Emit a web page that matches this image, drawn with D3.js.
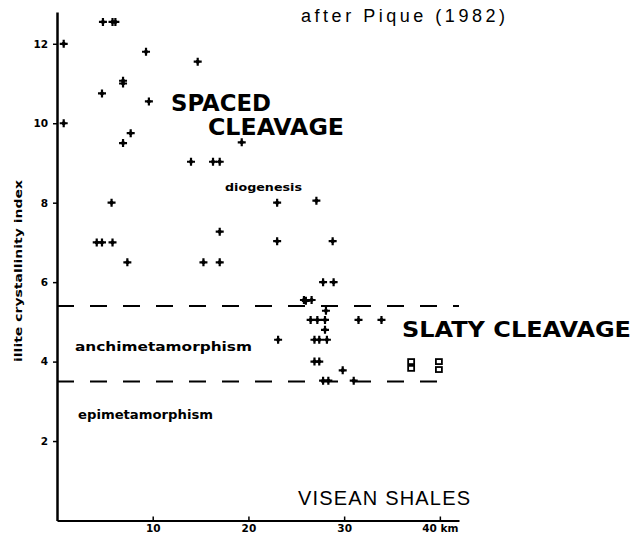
<!DOCTYPE html>
<html>
<head>
<meta charset="utf-8">
<script src="https://d3js.org/d3.v7.min.js"></script>
<style>
  body { margin: 0; background: #fff; }
  svg { display: block; }
  .lbl-bold { font-family: "DejaVu Sans", sans-serif; font-weight: bold; fill: #000; }
  .lbl-plain { font-family: "Liberation Sans", Arial, sans-serif; fill: #000; }
</style>
</head>
<body>
<svg id="chart" width="636" height="537"></svg>
<script>
// distance (km) and illite crystallinity index, crosses
const crossX = [0.7, 0.7, 4.8, 5.8, 6.1, 9.3, 14.7, 6.9, 6.9, 4.7, 9.6, 7.7, 6.9, 14.0, 16.3, 17.0, 19.3,
  5.7, 4.15, 4.7, 5.8, 7.35, 15.3, 17.0, 17.0, 23.0, 27.1, 23.0, 28.8, 27.8, 28.9,
  25.8, 26.0, 26.6, 28.1, 26.5, 27.2, 28.0, 31.5, 33.9, 28.0, 23.1, 26.9, 27.4, 28.2,
  26.9, 27.4, 29.85, 27.8, 28.35, 31.0];
const crossY = [12.0, 10.0, 12.55, 12.55, 12.55, 11.8, 11.55, 11.0, 11.07, 10.75, 10.55, 9.75, 9.5, 9.03, 9.03, 9.03, 9.52,
  8.0, 7.0, 7.0, 7.0, 6.5, 6.5, 6.5, 7.27, 8.0, 8.05, 7.03, 7.03, 6.0, 6.0,
  5.55, 5.53, 5.55, 5.28, 5.05, 5.05, 5.05, 5.05, 5.05, 4.8, 4.55, 4.55, 4.55, 4.55,
  4.0, 4.0, 3.78, 3.52, 3.52, 3.52];

// open squares (slaty cleavage samples)
const squareX = [37.0, 37.0, 39.9, 39.9];
const squareY = [4.0, 3.83, 4.0, 3.8];

// zone limits
const limitY = [5.4, 3.5];
const limitEnd = [42, 40.5];

const yTicks = [2, 4, 6, 8, 10, 12];
const xTicks = [10, 20, 30, 40];

const svg = d3.select('#chart');

const x = d3.scaleLinear().domain([0, 42]).range([57, 459]);
const y = d3.scaleLinear().domain([0, 12.8]).range([520.5, 12]);

// dashed zone limits
svg.selectAll('.limit')
  .data(limitY)
  .enter()
  .append('line')
  .attr('class', 'limit')
  .attr('x1', x(0))
  .attr('x2', (d, i) => x(limitEnd[i]))
  .attr('y1', d => y(d))
  .attr('y2', d => y(d))
  .attr('stroke', '#000')
  .attr('stroke-width', 2)
  .attr('stroke-dasharray', '17,16');

// axes
const yAxis = svg.append('g')
  .attr('transform', `translate(${x(0)},0)`)
  .call(d3.axisLeft(y).tickValues(yTicks).tickSizeInner(4).tickSizeOuter(0).tickPadding(5));

const xAxis = svg.append('g')
  .attr('transform', `translate(0,${y(0)})`)
  .call(d3.axisBottom(x).tickValues(xTicks).tickSizeInner(-4).tickSizeOuter(0).tickPadding(4)
    .tickFormat(d => d === 40 ? '40 km' : d));

yAxis.select('.domain').attr('stroke-width', 2.5);
xAxis.select('.domain').attr('stroke-width', 1.8);
[yAxis, xAxis].forEach(a => {
  a.selectAll('.tick line').attr('stroke-width', 1.5);
  a.selectAll('.tick text')
    .attr('font-family', '"DejaVu Sans", sans-serif')
    .attr('font-weight', 'bold')
    .attr('font-size', 10.5);
});

// crosses
const crosses = svg.selectAll('.cross')
  .data(crossX.map((d, i) => [d, crossY[i]]))
  .enter()
  .append('g')
  .attr('class', 'cross')
  .attr('transform', d => `translate(${x(d[0])},${y(d[1])})`);

crosses.append('path')
  .attr('d', 'M-4,0H4M0,-4V4')
  .attr('stroke', '#000')
  .attr('stroke-width', 2.2);

crosses.append('circle')
  .attr('r', 2)
  .attr('fill', '#000');

// squares
svg.selectAll('.sq')
  .data(squareX.map((d, i) => [d, squareY[i]]))
  .enter()
  .append('rect')
  .attr('class', 'sq')
  .attr('x', d => x(d[0]) - 3)
  .attr('y', d => y(d[1]) - 2.5)
  .attr('width', 6)
  .attr('height', 5)
  .attr('fill', '#fff')
  .attr('stroke', '#000')
  .attr('stroke-width', 1.8);

// labels
function label(txt, px, py, size, cls, width) {
  const t = svg.append('text')
    .attr('class', cls)
    .attr('x', px)
    .attr('y', py)
    .attr('font-size', size)
    .text(txt);
  if (width) t.attr('textLength', width).attr('lengthAdjust', 'spacingAndGlyphs');
  return t;
}

label('after Pique (1982)', 301, 22, 18, 'lbl-plain', 204).attr('lengthAdjust', 'spacing');
label('SPACED', 171, 111, 23, 'lbl-bold', 100);
label('CLEAVAGE', 208, 135, 23, 'lbl-bold', 136);
label('diogenesis', 225, 191, 11, 'lbl-bold', 77);
label('SLATY CLEAVAGE', 402, 337, 21, 'lbl-bold', 229);
label('anchimetamorphism', 75, 351, 12, 'lbl-bold', 177);
label('epimetamorphism', 78, 419, 12, 'lbl-bold', 135);
label('VISEAN SHALES', 298, 505, 20, 'lbl-plain', 172).attr('lengthAdjust', 'spacing');

svg.append('text')
  .attr('class', 'lbl-bold')
  .attr('transform', 'translate(22,271) rotate(-90)')
  .attr('text-anchor', 'middle')
  .attr('font-size', 11)
  .attr('textLength', 182)
  .attr('lengthAdjust', 'spacingAndGlyphs')
  .text('illite crystallinity index');
</script>
</body>
</html>
